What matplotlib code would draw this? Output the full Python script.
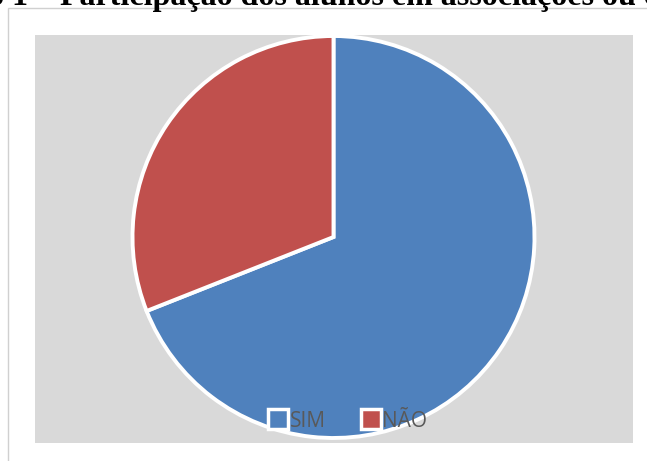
import matplotlib
matplotlib.use("Agg")
import matplotlib.pyplot as plt
from matplotlib.patches import Rectangle
from matplotlib.lines import Line2D

W, H = 647, 461
DPI = 100

labels = ["SIM", "NÃO"]
values = [69, 31]
colors = ["#4f81bd", "#c0504d"]
title_prefix = "Gráfico 1 – "
title_main = "Participação dos alunos em associações ou coletivos"

fig = plt.figure(figsize=(W / DPI, H / DPI), dpi=DPI)

def fx(px):
    return px / W

def fy(py):
    return 1 - py / H

# outer frame
fig.patches.append(Rectangle((fx(8), fy(470)), fx(700), 470 / H - 8 / H,
                             transform=fig.transFigure, fill=False,
                             edgecolor="#d0d0d0", linewidth=1.0))

# gray plot area
L, T, R, B = 35, 35, 633, 443
ax = fig.add_axes([fx(L), fy(B), fx(R - L), (B - T) / H])
ax.set_facecolor("#d9d9d9")

cx, cy, rad = 333.5 - L, B - 237, 201
ax.pie(values, colors=colors, startangle=90, counterclock=False,
       center=(cx, cy), radius=rad, frame=True,
       wedgeprops=dict(edgecolor="white", linewidth=2.8))
ax.set_aspect("auto")
ax.set_xlim(0, R - L)
ax.set_ylim(0, B - T)
ax.set_xticks([])
ax.set_yticks([])
for s in ax.spines.values():
    s.set_visible(False)

# title (partially cut at the top)
tfont = dict(family="Liberation Serif", fontweight="bold", fontsize=23)
fig.text(fx(60), fy(5), title_main, ha="left", va="baseline", **tfont)
fig.text(fx(60), fy(5), title_prefix, ha="right", va="baseline", **tfont)

handles = [Line2D([], [], linestyle="none", marker="s", markersize=15,
                  markerfacecolor=c, markeredgecolor="white", markeredgewidth=2.5)
           for c in colors]
fig.legend(handles, labels, loc="center", bbox_to_anchor=(fx(348), fy(421)),
           frameon=False, ncol=2, handlelength=0.9, handletextpad=0.1,
           columnspacing=1.7, prop=dict(family="Open Sans", size=15),
           labelcolor="#595959")

fig.savefig("out.png", dpi=DPI)
